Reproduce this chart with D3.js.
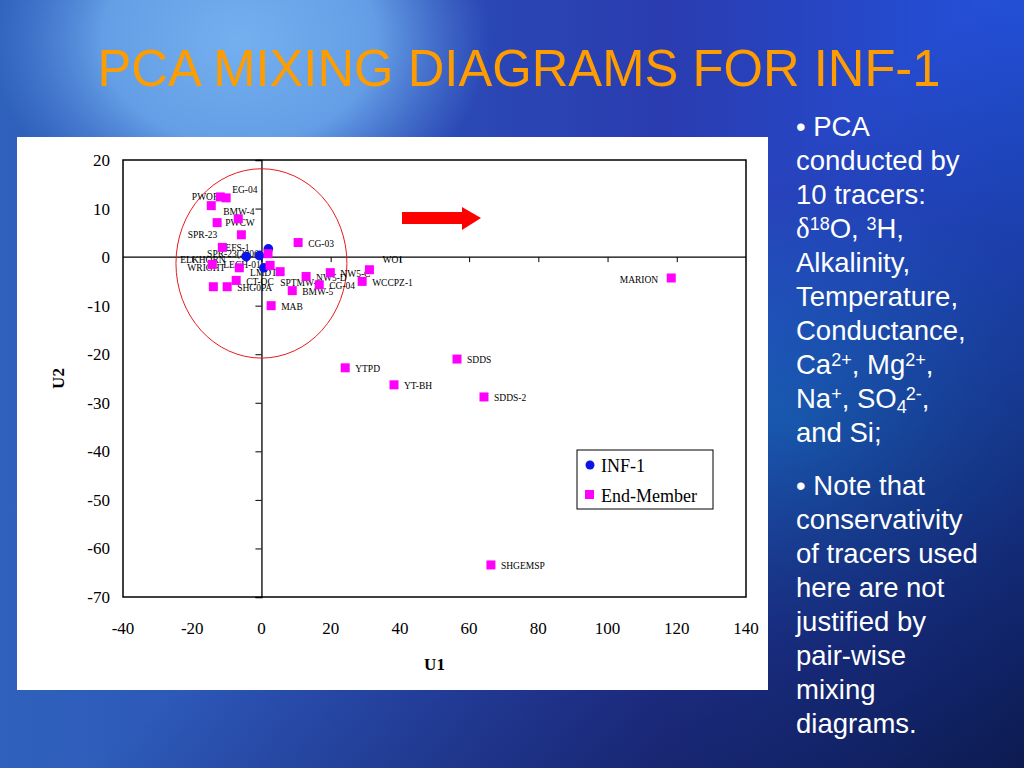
<!DOCTYPE html>
<html>
<head>
<meta charset="utf-8">
<script src="https://cdn.jsdelivr.net/npm/d3@7"></script>
<style>
  body { margin: 0; overflow: hidden; }
</style>
</head>
<body>
<div id="slide"></div>
<script>
var width = 1024,
  height = 768;

// end-member scores (U1, U2)
var memberNames = ["PWOF", "EG-04", "BMW-4", "", "PWCW", "SPR-23", "EFS-1", "SPR-23(2006)",
  "CG-03", "ELKHORN", "LECH-01", "LMDT-1", "SPTMW-1", "CT-OC", "WRIGHT", "SHG0PA",
  "NW5-D", "BMW-5", "CG-04", "NW5-C", "WO1", "WCCPZ-1", "MAB",
  "MARION", "SDDS", "YTPD", "YT-BH", "SDDS-2", "SHGEMSP"];
var memberU1 = [-11.9, -10.2, -14.5, -6.7, -12.8, -5.8, -11.3, 1.9,
  10.6, -14.2, -6.4, 2.5, 5.4, -7.3, -13.9, -9.9,
  12.9, 8.9, 16.7, 19.9, 31.2, 29.1, 2.8,
  118.4, 56.5, 24.2, 38.3, 64.3, 66.3];
var memberU2 = [12.4, 12.2, 10.6, 7.9, 7.1, 4.6, 2.0, 0.7,
  3.0, -1.5, -2.2, -1.7, -3.0, -4.8, -6.1, -6.1,
  -4.0, -6.9, -5.7, -3.2, -2.6, -5.0, -10.0,
  -4.3, -21.0, -22.8, -26.3, -28.8, -63.4];

// INF-1 samples
var infU1 = [-4.4, -0.6, 2.0, 0.7];
var infU2 = [0.1, 0.3, 1.7, -2.2];

var xTicks = d3.range(-40, 141, 20);
var yTicks = d3.range(-70, 21, 10);

// label placement (pixels) where the label is not simply to the right
var labelPos = {
  "PWOF": [-2, 0, "end"], "EG-04": [6, -8], "BMW-4": [12, 6], "PWCW": [8, 0],
  "SPR-23": [-24, 0, "end"], "EFS-1": [3, 0], "SPR-23(2006)": [-6, 0, "end"],
  "ELKHORN": [-32, -5], "WRIGHT": [-26, -19], "LECH-01": [-16, -3],
  "LMDT-1": [-20, 7], "SPTMW-1": [0, 11], "WO1": [13, -10], "MARION": [-13, 2, "end"]
};

var svg = d3.select("#slide").append("svg")
  .attr("width", width)
  .attr("height", height);

var defs = svg.append("defs");

var bg = defs.append("linearGradient").attr("id", "bg")
  .attr("x1", 0).attr("y1", 0).attr("x2", 1).attr("y2", 0);
bg.append("stop").attr("offset", "0%").attr("stop-color", "#2f62bc");
bg.append("stop").attr("offset", "40%").attr("stop-color", "#2b4cb6");
bg.append("stop").attr("offset", "65%").attr("stop-color", "#2a3cb0");
bg.append("stop").attr("offset", "100%").attr("stop-color", "#2352dc");

var light = defs.append("radialGradient").attr("id", "light")
  .attr("gradientUnits", "userSpaceOnUse")
  .attr("cx", 0).attr("cy", 0).attr("r", 1)
  .attr("gradientTransform", "translate(240,40) scale(250,190)");
light.append("stop").attr("offset", "0%").attr("stop-color", "#74b0f0").attr("stop-opacity", 1);
light.append("stop").attr("offset", "55%").attr("stop-color", "#6aa6ea").attr("stop-opacity", 0.9);
light.append("stop").attr("offset", "100%").attr("stop-color", "#5a90e0").attr("stop-opacity", 0);

var glow = defs.append("radialGradient").attr("id", "glow")
  .attr("cx", 0.78).attr("cy", 0.55).attr("r", 0.3);
glow.append("stop").attr("offset", "0%").attr("stop-color", "#1c78dc").attr("stop-opacity", 0.9);
glow.append("stop").attr("offset", "100%").attr("stop-color", "#1c78dc").attr("stop-opacity", 0);

var dark = defs.append("linearGradient").attr("id", "dark")
  .attr("x1", 0.2).attr("y1", 0.3).attr("x2", 1).attr("y2", 1);
dark.append("stop").attr("offset", "35%").attr("stop-color", "#0a1440").attr("stop-opacity", 0);
dark.append("stop").attr("offset", "100%").attr("stop-color", "#0a1440").attr("stop-opacity", 0.9);

svg.append("rect").attr("width", width).attr("height", height).attr("fill", "url(#bg)");
svg.append("rect").attr("width", width).attr("height", height).attr("fill", "url(#light)");
svg.append("rect").attr("width", width).attr("height", height).attr("fill", "url(#glow)");
svg.append("rect").attr("width", width).attr("height", height).attr("fill", "url(#dark)");

// title
svg.append("text")
  .attr("x", 519).attr("y", 86)
  .attr("text-anchor", "middle")
  .attr("font-family", "Liberation Sans, Arial, sans-serif")
  .attr("font-size", 52)
  .attr("textLength", 843)
  .attr("lengthAdjust", "spacingAndGlyphs")
  .attr("fill", "#ff9c00")
  .text("PCA MIXING DIAGRAMS FOR INF-1");

// chart panel
svg.append("rect")
  .attr("x", 17).attr("y", 137)
  .attr("width", 751).attr("height", 553)
  .attr("fill", "#fff");

var x = d3.scaleLinear().domain([-40, 140]).range([123, 746]);
var y = d3.scaleLinear().domain([-70, 20]).range([597, 160]);

var g = svg.append("g").attr("font-family", "Liberation Serif, Times New Roman, serif");

g.append("rect")
  .attr("x", x(-40)).attr("y", y(20))
  .attr("width", x(140) - x(-40)).attr("height", y(-70) - y(20))
  .attr("fill", "none").attr("stroke", "#000").attr("stroke-width", 1.5);

// axes cross at zero
g.append("g")
  .attr("transform", "translate(" + x(0) + ",0)")
  .call(d3.axisLeft(y).tickValues(yTicks).tickSize(6).tickFormat(""))
  .call(function(a) { a.select(".domain").attr("stroke-width", 1.3); });

g.append("g")
  .attr("transform", "translate(0," + y(0) + ")")
  .call(d3.axisBottom(x).tickValues(xTicks.slice(1, -1)).tickSize(5).tickFormat(""))
  .call(function(a) { a.select(".domain").attr("d", "M" + x(-40) + ",0H" + x(140)).attr("stroke-width", 1.3); });

// tick labels along the frame
g.selectAll(".ylab")
  .data(yTicks)
  .enter().append("text")
    .attr("class", "ylab")
    .attr("x", 110)
    .attr("y", function(d) { return y(d) + 6; })
    .attr("text-anchor", "end")
    .attr("font-size", 17)
    .text(function(d) { return d; });

g.selectAll(".xlab")
  .data(xTicks)
  .enter().append("text")
    .attr("class", "xlab")
    .attr("x", function(d) { return x(d); })
    .attr("y", 634)
    .attr("text-anchor", "middle")
    .attr("font-size", 17)
    .text(function(d) { return d; });

g.append("text")
  .attr("x", x(50)).attr("y", 670)
  .attr("text-anchor", "middle")
  .attr("font-size", 17).attr("font-weight", "bold")
  .text("U1");

g.append("text")
  .attr("transform", "translate(64," + y(-25) + ") rotate(-90)")
  .attr("text-anchor", "middle")
  .attr("font-size", 17).attr("font-weight", "bold")
  .text("U2");

// hand-drawn grouping ellipse
g.append("ellipse")
  .attr("cx", x(0)).attr("cy", y(-1.3))
  .attr("rx", x(24.7) - x(0)).attr("ry", y(-20.8) - y(-1.3))
  .attr("fill", "none").attr("stroke", "#e8191c").attr("stroke-width", 1);

var members = memberNames.map(function(d, i) {
  return { name: d, u1: memberU1[i], u2: memberU2[i] };
});
var inf = infU1.map(function(d, i) { return { u1: d, u2: infU2[i] }; });

g.selectAll(".mlab")
  .data(members.filter(function(d) { return d.name; }))
  .enter().append("text")
    .attr("class", "mlab")
    .attr("x", function(d) { return x(d.u1) + (labelPos[d.name] ? labelPos[d.name][0] : 10); })
    .attr("y", function(d) { return y(d.u2) + (labelPos[d.name] ? labelPos[d.name][1] : 1) + 3.3; })
    .attr("text-anchor", function(d) { return labelPos[d.name] && labelPos[d.name][2] || "start"; })
    .attr("font-size", 9.5)
    .text(function(d) { return d.name; });

g.selectAll(".inf")
  .data(inf)
  .enter().append("circle")
    .attr("class", "inf")
    .attr("cx", function(d) { return x(d.u1); })
    .attr("cy", function(d) { return y(d.u2); })
    .attr("r", 4.8)
    .attr("fill", "#0a14e6");

g.selectAll(".member")
  .data(members)
  .enter().append("rect")
    .attr("class", "member")
    .attr("x", function(d) { return x(d.u1) - 4.5; })
    .attr("y", function(d) { return y(d.u2) - 4.5; })
    .attr("width", 9).attr("height", 9)
    .attr("fill", "#ff00ff");

// legend
var legend = g.append("g").attr("transform", "translate(577,450)");
legend.append("rect")
  .attr("width", 136).attr("height", 59)
  .attr("fill", "#fff").attr("stroke", "#000").attr("stroke-width", 1);
legend.append("circle").attr("cx", 13).attr("cy", 15).attr("r", 4.5).attr("fill", "#0a14e6");
legend.append("rect").attr("x", 8).attr("y", 40).attr("width", 9).attr("height", 9).attr("fill", "#ff00ff");
legend.append("text").attr("x", 24).attr("y", 22).attr("font-size", 18).text("INF-1");
legend.append("text").attr("x", 24).attr("y", 52).attr("font-size", 18).text("End-Member");

// red arrow
var arrowPts = [[402, 212], [462, 212], [462, 207], [481, 218], [462, 230], [462, 224], [402, 224]];
svg.append("path")
  .attr("d", d3.line()(arrowPts) + "Z")
  .attr("fill", "#ff0000");

// bullet text
var lines = [
  ["• PCA"], ["conducted by"], ["10 tracers:"],
  [["δ", "serif"], ["18", "sup"], "O, ", ["3", "sup"], "H,"],
  ["Alkalinity,"], ["Temperature,"], ["Conductance,"],
  ["Ca", ["2+", "sup"], ", Mg", ["2+", "sup"], ","],
  ["Na", ["+", "sup"], ", SO", ["4", "sub"], ["2-", "sup2"], ","],
  ["and Si;"],
  ["• Note that"], ["conservativity"], ["of tracers used"], ["here are not"],
  ["justified by"], ["pair-wise"], ["mixing"], ["diagrams."]
];

var txt = svg.append("g")
  .attr("font-family", "Liberation Sans, Arial, sans-serif")
  .attr("font-size", 27.5)
  .attr("fill", "#fff");

lines.forEach(function(parts, i) {
  var base = i < 10 ? 136 + i * 34 : 495 + (i - 10) * 34;
  var t = txt.append("text").attr("x", 796).attr("y", base);
  parts.forEach(function(p) {
    if (typeof p === "string") { t.append("tspan").text(p); return; }
    var s = t.append("tspan").text(p[0]);
    if (p[1] === "serif") s.attr("font-family", "Liberation Serif, serif").attr("font-size", 29);
    if (p[1] === "sup") s.attr("font-size", 18).attr("baseline-shift", "8");
    if (p[1] === "sub") s.attr("font-size", 18).attr("baseline-shift", "-5");
    if (p[1] === "sup2") s.attr("font-size", 18).attr("baseline-shift", "8").attr("dx", -1);
  });
});
</script>
</body>
</html>
